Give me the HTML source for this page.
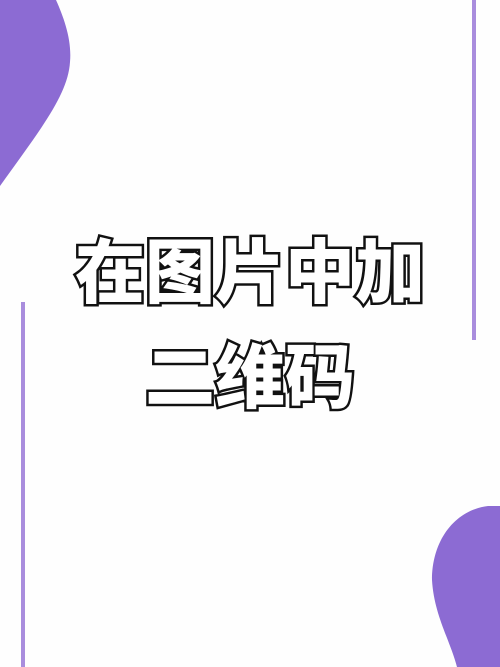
<!DOCTYPE html>
<html><head><meta charset="utf-8"><style>
html,body{margin:0;padding:0;background:#fff;}
#wrap{position:relative;width:500px;height:667px;overflow:hidden;background:#fefefe;}
.t{position:absolute;left:0;width:500px;text-align:center;font-family:"Liberation Sans","Noto Sans CJK SC",sans-serif;font-weight:900;font-size:70px;color:#fff;-webkit-text-stroke:5px #111;paint-order:stroke fill;letter-spacing:0px;line-height:1;}
</style></head><body>
<div id="wrap">
<svg width="500" height="667" style="position:absolute;left:0;top:0">
<path d="M0,0 L56,0 C64,18 72,40 70,62 C68,95 40,130 0,186 Z" fill="#8c6bd3"/>
<path d="M500,667 L500,506 L488,506 C455,510 432,540 432,580 C434,615 450,640 457,667 Z" fill="#8c6bd3"/>
<rect x="472" y="0" width="4" height="340" fill="#a98ddd"/>
<rect x="21" y="302" width="4" height="365" fill="#a98ddd"/>
</svg>
<div class="t" style="top:238px;">在图片中加</div>
<div class="t" style="top:343px;">二维码</div>
</div>
</body></html>
